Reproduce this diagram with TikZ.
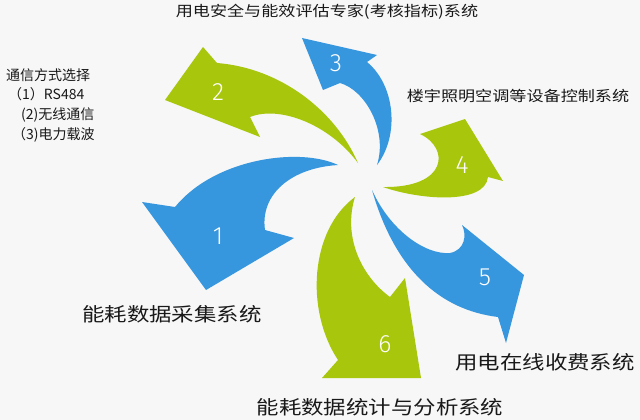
\documentclass[tikz,border=0pt]{standalone}
\usepackage{fontspec}
\newfontfamily\cjk{Noto Sans CJK SC}
\newfontfamily\cjkwide[FakeStretch=1.18]{Noto Sans CJK SC}
\newfontfamily\numfont{Fira Sans Light}
\definecolor{arrowblue}{RGB}{54,150,222}
\definecolor{arrowgreen}{RGB}{168,198,12}
\definecolor{bgcol}{RGB}{247,247,247}
\definecolor{textdark}{RGB}{25,25,25}
\tikzset{
  lbl/.style={inner sep=0pt,text=textdark},
  num/.style={inner sep=0pt,text=white,font=\numfont\fontsize{25pt}{25pt}\selectfont},
}
\begin{document}
\begin{tikzpicture}[x=1pt,y=-1pt,line cap=round]
	\fill[bgcol] (0,0) rectangle (640,420);
	\useasboundingbox (0,0) rectangle (640,420);
	% arrow 1
	\coordinate (t1) at (338,165);
	\coordinate (n1a) at (175,207);
	\coordinate (b1a) at (142,202);
	\coordinate (p1) at (206,290);
	\coordinate (b1b) at (294,238);
	\coordinate (n1b) at (265,230);
	\fill[arrowblue] (t1) .. controls (300,147) and (215,158) .. (n1a) -- (b1a) -- (p1) -- (b1b) -- (n1b)
		.. controls (260,195) and (290,168) .. (t1) -- cycle;
	% arrow 2
	\coordinate (t2) at (358,163);
	\coordinate (n2a) at (217,63);
	\coordinate (b2a) at (203,47);
	\coordinate (p2) at (165,100);
	\coordinate (b2b) at (260,137);
	\coordinate (n2b) at (250,117);
	\fill[arrowgreen] (t2) .. controls (335,110) and (280,68) .. (n2a) -- (b2a) -- (p2) -- (b2b) -- (n2b)
		.. controls (280,105) and (330,125) .. (t2) -- cycle;
	% arrow 3
	\coordinate (t3) at (377,165);
	\coordinate (n3a) at (367,62);
	\coordinate (b3a) at (377,55);
	\coordinate (p3) at (302,38);
	\coordinate (b3b) at (323,90);
	\coordinate (n3b) at (340,83);
	\fill[arrowblue] (t3) .. controls (400,135) and (395,85) .. (n3a) -- (b3a) -- (p3) -- (b3b) -- (n3b)
		.. controls (365,90) and (388,130) .. (t3) -- cycle;
	% arrow 4
	\coordinate (t4) at (383,187);
	\coordinate (n4a) at (488,177);
	\coordinate (b4a) at (503,181);
	\coordinate (p4) at (465,119);
	\coordinate (b4b) at (420,134);
	\fill[arrowgreen] (t4) .. controls (420,200) and (485,205) .. (n4a) -- (b4a) -- (p4) -- (b4b)
		.. controls (450,148) and (448,188) .. (t4) -- cycle;
	% arrow 5
	\coordinate (t5) at (372,190);
	\coordinate (m5) at (450,253);
	\coordinate (b5a) at (462,225);
	\coordinate (p5) at (524,275);
	\coordinate (b5b) at (506,343);
	\coordinate (n5b) at (498,317);
	\fill[arrowblue] (t5) .. controls (390,230) and (425,255) .. (m5) .. controls (465,250) and (467,235) .. (b5a)
		-- (p5) -- (b5b) -- (n5b) .. controls (440,310) and (395,270) .. (t5) -- cycle;
	% arrow 6
	\coordinate (t6) at (355,197);
	\coordinate (n6a) at (338,360);
	\coordinate (b6a) at (322,378);
	\coordinate (p6) at (421,378);
	\coordinate (b6b) at (405,278);
	\coordinate (n6b) at (390,297);
	\fill[arrowgreen] (t6) .. controls (310,230) and (305,310) .. (n6a) -- (b6a) -- (p6) -- (b6b) -- (n6b)
		.. controls (360,275) and (343,235) .. (t6) -- cycle;
	% numbers
	\node[num] (num1) at (218,236) {1};
	\node[num] (num2) at (218,92) {2};
	\node[num] (num3) at (336,63) {3};
	\node[num] (num4) at (462,165) {4};
	\node[num] (num5) at (485,277) {5};
	\node[num] (num6) at (385,344) {6};
	% labels
	\node[lbl,font=\cjkwide\fontsize{14.5pt}{17pt}\selectfont] (assess) at (327,11.5) {用电安全与能效评估专家(考核指标)系统};
	\node[lbl,font=\cjkwide\fontsize{14.5pt}{17pt}\selectfont] (control) at (518,95.5) {楼宇照明空调等设备控制系统};
	\node[lbl,font=\cjkwide\fontsize{19pt}{22pt}\selectfont] (collect) at (172,314) {能耗数据采集系统};
	\node[lbl,font=\cjkwide\fontsize{19pt}{22pt}\selectfont] (billing) at (545,362) {用电在线收费系统};
	\node[lbl,font=\cjkwide\fontsize{19pt}{22pt}\selectfont] (analysis) at (380,407) {能耗数据统计与分析系统};
	\node[lbl,anchor=west,font=\cjk\fontsize{14pt}{17pt}\selectfont] (comm) at (6,75) {通信方式选择};
	\node[lbl,anchor=west,font=\cjk\fontsize{14pt}{17pt}\selectfont] (comma) at (8,94) {（1）RS484};
	\node[lbl,anchor=west,font=\cjk\fontsize{14pt}{17pt}\selectfont] (commb) at (21,114.5) {(2)无线通信};
	\node[lbl,anchor=west,font=\cjk\fontsize{14pt}{17pt}\selectfont] (commc) at (12,135) {（3)电力载波};
\end{tikzpicture}
\end{document}
